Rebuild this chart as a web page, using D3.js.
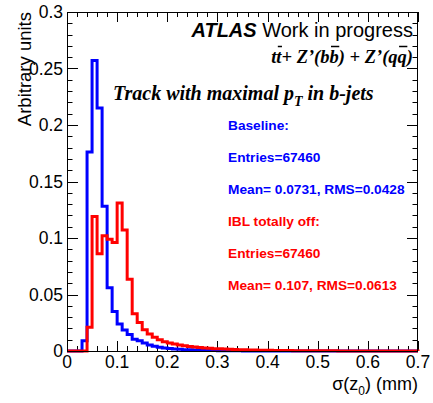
<!DOCTYPE html>
<html><head><meta charset="utf-8">
<script src="https://cdn.jsdelivr.net/npm/d3@7"></script>
<style>body{margin:0;background:#fff;overflow:hidden}</style>
</head><body>
<script>
// bin lower edges (width 0.01) from 0.00 to 0.69
const binLow = [0.00,0.01,0.02,0.03,0.04,0.05,0.06,0.07,0.08,0.09,
  0.10,0.11,0.12,0.13,0.14,0.15,0.16,0.17,0.18,0.19,
  0.20,0.21,0.22,0.23,0.24,0.25,0.26,0.27,0.28,0.29,
  0.30,0.31,0.32,0.33,0.34,0.35,0.36,0.37,0.38,0.39,
  0.40,0.41,0.42,0.43,0.44,0.45,0.46,0.47,0.48,0.49,
  0.50,0.51,0.52,0.53,0.54,0.55,0.56,0.57,0.58,0.59,
  0.60,0.61,0.62,0.63,0.64,0.65,0.66,0.67,0.68,0.69];
const binWidth = 0.01;
const baseline = [0,0,0,0.009,0.176,0.257,0.215,0.128,0.056,0.035,
  0.024,0.0185,0.0145,0.0105,0.009,0.007,0.0053,0.0041,0.0033,0.0027,
  0.0022,0.0018,0.0015,0.0012,0.001,0.0008,0.0007,0.0006,0.0005,0.0004,
  0.0003,0.0003,0.0002,0.0002,0.0002,0.0001,0.0001,0.0001,0.0001,0.0001,
  0.0001,0.0001,0,0,0,0,0,0,0,0,
  0,0,0,0,0,0,0,0,0,0,
  0,0,0,0,0,0,0,0,0,0];
const iblOff = [0,0,0,0,0.021,0.119,0.086,0.102,0.099,0.096,
  0.131,0.107,0.0635,0.033,0.0253,0.0188,0.015,0.0121,0.010,0.0082,
  0.0071,0.0062,0.0053,0.0046,0.004,0.0035,0.003,0.0027,0.0024,0.0021,
  0.0019,0.0017,0.0015,0.0013,0.0012,0.001,0.0009,0.0008,0.0007,0.0006,
  0.0006,0.0005,0.0005,0.0004,0.0004,0.0003,0.0003,0.0003,0.0003,0.0002,
  0.0002,0.0002,0.0002,0.0002,0.0001,0.0001,0.0001,0.0001,0.0001,0.0001,
  0.0001,0.0001,0.0001,0.0001,0.0001,0.0001,0.0001,0.0001,0.0001,0.0001];
const xTicks = [0,0.1,0.2,0.3,0.4,0.5,0.6,0.7];
const xTickLabels = ["0","0.1","0.2","0.3","0.4","0.5","0.6","0.7"];
const yTicks = [0,0.05,0.1,0.15,0.2,0.25,0.3];
const yTickLabels = ["0","0.05","0.1","0.15","0.2","0.25","0.3"];
const statsBlue = ["Baseline:","Entries=67460","Mean= 0.0731, RMS=0.0428"];
const statsRed = ["IBL totally off:","Entries=67460","Mean= 0.107, RMS=0.0613"];

const W = 433, H = 403;
const L = 67, R = 418, T = 12, B = 351;
const svg = d3.select("body").append("svg").attr("width", W).attr("height", H);
const x = d3.scaleLinear().domain([0, 0.7]).range([L, R]);
const y = d3.scaleLinear().domain([0, 0.3]).range([B, T]);
const sans = "'Liberation Sans', Arial, Helvetica, sans-serif";
const serif = "'Liberation Serif', 'Times New Roman', Times, serif";

// ticks
const xMinor = d3.range(0, 0.7001, 0.02);
const yMinor = d3.range(0, 0.3001, 0.01);
const g = svg.append("g").attr("stroke", "#000").attr("stroke-width", 1);
xMinor.forEach(v => {
  const major = xTicks.some(t => Math.abs(t - v) < 1e-6);
  const len = major ? 10 : 5;
  const px = Math.round(x(v)) + 0.5;
  g.append("line").attr("x1", px).attr("x2", px).attr("y1", B).attr("y2", B - len);
  g.append("line").attr("x1", px).attr("x2", px).attr("y1", T).attr("y2", T + len);
});
yMinor.forEach(v => {
  const major = yTicks.some(t => Math.abs(t - v) < 1e-6);
  const len = major ? 11 : 5.5;
  const py = Math.round(y(v)) + 0.5;
  g.append("line").attr("x1", L).attr("x2", L + len).attr("y1", py).attr("y2", py);
  g.append("line").attr("x1", R).attr("x2", R - len).attr("y1", py).attr("y2", py);
});

// histograms
function stepPoints(vals) {
  const pts = [[0, 0]];
  vals.forEach((v, i) => { pts.push([binLow[i], v]); pts.push([binLow[i] + binWidth, v]); });
  pts.push([0.7, 0]);
  return pts;
}
const line = d3.line().x(d => x(d[0])).y(d => y(d[1]));
svg.append("path").attr("d", line(stepPoints(baseline))).attr("fill", "none")
  .attr("stroke", "#0000ff").attr("stroke-width", 3).attr("stroke-linejoin", "miter");
svg.append("path").attr("d", line(stepPoints(iblOff))).attr("fill", "none")
  .attr("stroke", "#ff0000").attr("stroke-width", 3).attr("stroke-linejoin", "miter");

// frame
svg.append("rect").attr("x", L + 0.5).attr("y", T + 0.5).attr("width", R - L - 1).attr("height", B - T)
  .attr("fill", "none").attr("stroke", "#000").attr("stroke-width", 1);

// tick labels
xTicks.forEach((v, i) => {
  svg.append("text").attr("x", x(v)).attr("y", 368).attr("text-anchor", "middle")
    .attr("font-family", sans).attr("font-size", 17.5).text(xTickLabels[i]);
});
yTicks.forEach((v, i) => {
  svg.append("text").attr("x", 63).attr("y", y(v) + 6).attr("text-anchor", "end")
    .attr("font-family", sans).attr("font-size", 17.5).text(yTickLabels[i]);
});

// axis titles
const xt = svg.append("text").attr("x", 418).attr("y", 390).attr("text-anchor", "end")
  .attr("font-family", sans).attr("font-size", 18);
xt.append("tspan").text("σ(z");
xt.append("tspan").attr("dy", 5).attr("font-size", 12).text("0");
xt.append("tspan").attr("dy", -5).text(") (mm)");
svg.append("text").attr("transform", "translate(31,12) rotate(-90)").attr("text-anchor", "end")
  .attr("font-family", sans).attr("font-size", 18.5).text("Arbitrary units");

// ATLAS label
const at = svg.append("text").attr("x", 413).attr("y", 37).attr("text-anchor", "end")
  .attr("font-family", sans).attr("font-size", 20);
at.append("tspan").attr("font-weight", "bold").attr("font-style", "italic").text("ATLAS");
at.append("tspan").text(" Work in progress");

// process formula with overbars
const f = svg.append("text").attr("x", 413).attr("y", 63).attr("text-anchor", "end")
  .attr("font-family", serif).attr("font-size", 18.5).attr("font-weight", "bold").attr("font-style", "italic")
  .text("tt+ Z\u2019(bb) + Z\u2019(qq)");
const fn = f.node();
[1, 8, 17].forEach(i => {
  const s = fn.getStartPositionOfChar(i), e = fn.getEndPositionOfChar(i);
  svg.append("line").attr("x1", s.x + 1.5).attr("x2", e.x + 0.5).attr("y1", 46.5).attr("y2", 46.5)
    .attr("stroke", "#000").attr("stroke-width", 1.5);
});

// Track label
const tr = svg.append("text").attr("x", 113).attr("y", 100)
  .attr("font-family", serif).attr("font-size", 20).attr("font-weight", "bold").attr("font-style", "italic");
tr.append("tspan").text("Track with maximal p");
tr.append("tspan").attr("dy", 6).attr("font-size", 14).text("T");
tr.append("tspan").attr("dy", -6).text(" in b-jets");

// stats
statsBlue.forEach((s, i) => {
  svg.append("text").attr("x", 228).attr("y", 130 + i * 32).attr("fill", "#0000ff")
    .attr("font-family", sans).attr("font-size", 13.7).attr("font-weight", "bold").text(s);
});
statsRed.forEach((s, i) => {
  svg.append("text").attr("x", 228).attr("y", 226 + i * 32).attr("fill", "#ff0000")
    .attr("font-family", sans).attr("font-size", 13.7).attr("font-weight", "bold").text(s);
});
</script>
</body></html>
